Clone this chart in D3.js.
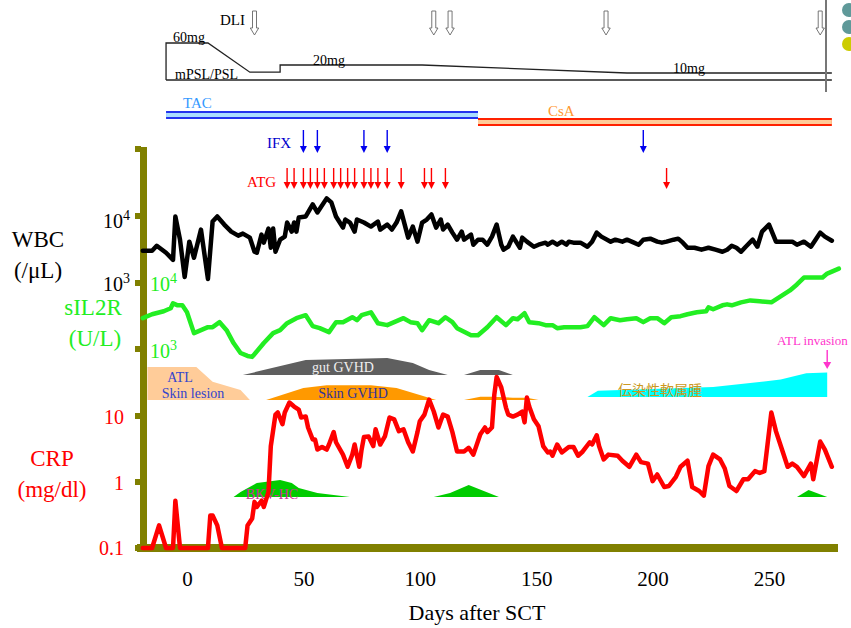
<!DOCTYPE html>
<html><head><meta charset="utf-8">
<script src="https://cdn.jsdelivr.net/npm/d3@7"></script>
<style>body{margin:0;background:#fff}svg{display:block}</style>
</head><body><svg id="c" width="851" height="628"></svg>
<script>
// ---------------- data ----------------
const xTicks = [0, 50, 100, 150, 200, 250];
const wbc = [[-19,3030],[-15,3030],[-13,3600],[-9,2830],[-6,2220],[-5,9830],[-3,4430],[-1,1230],[1,4140],[3,2380],[6,6270],[9,1150],[11,8270],[13,9830],[16,7450],[19,5850],[22,5090],[24,5460],[27,4750],[29,2930],[30,2830],[32,5270],[33,4000],[35,6490],[36,3360],[37,6490],[38,2930],[40,4430],[42,4920],[43,7990],[45,5850],[46,7990],[47,5850],[48,9500],[51,9830],[54,14900],[56,11290],[60,18330],[62,15960],[64,9830],[67,6720],[68,8860],[70,7990],[72,5850],[73,8860],[76,7990],[79,6950],[82,8270],[83,6270],[86,7450],[88,6270],[90,7990],[92,11700],[95,4750],[97,6950],[99,4140],[101,7990],[103,8860],[105,10530],[107,6720],[109,8860],[110,6270],[112,7450],[114,5650],[116,4430],[118,5850],[119,4430],[122,5270],[123,3730],[125,4430],[127,4430],[129,3730],[131,4920],[133,7450],[135,3730],[136,3140],[138,3480],[140,4920],[143,3360],[144,4750],[146,4140],[149,3480],[151,3730],[154,4000],[155,3730],[157,4140],[159,3730],[161,4140],[163,3730],[164,4140],[166,4000],[169,4000],[172,3480],[174,4140],[176,5650],[178,4920],[182,4140],[184,4430],[187,4140],[189,4430],[192,4000],[194,3730],[196,4430],[199,4590],[202,4140],[204,4000],[206,4140],[209,4430],[211,4590],[213,4000],[215,3360],[218,3360],[221,3140],[224,3360],[227,3140],[230,2930],[232,3140],[234,3600],[236,3360],[238,2930],[240,3480],[243,4430],[245,3480],[247,5850],[250,7450],[253,4140],[255,4140],[258,4140],[260,4140],[262,3730],[265,4140],[268,3480],[270,4430],[272,5650],[274,4920],[277,4280]];
const sil2r = [[-19,2930],[-15,3360],[-10,3730],[-7,4140],[-6,4920],[-4,4590],[-2,4590],[0,3600],[3,1740],[6,1930],[9,2140],[11,2140],[14,2550],[17,1930],[20,1230],[23,870],[26,785],[28,760],[33,1230],[37,1740],[40,1930],[43,2460],[47,2930],[51,3250],[54,2220],[57,2070],[61,1800],[64,2550],[67,2550],[71,3030],[73,2730],[75,3250],[79,3600],[82,2460],[86,2300],[89,2550],[93,2930],[96,2550],[99,2460],[101,1930],[104,2730],[108,2460],[111,3030],[114,2550],[116,2070],[122,1620],[125,1620],[129,2140],[133,3030],[137,2300],[140,2930],[142,2830],[145,3480],[147,2550],[151,2460],[154,2300],[157,2300],[159,2070],[162,2140],[165,2140],[169,2140],[172,2220],[175,3030],[179,2300],[182,2930],[186,2730],[189,2830],[193,2930],[196,2550],[199,2930],[202,2930],[205,2460],[208,3030],[212,3140],[215,3360],[219,3600],[223,3730],[224,4280],[226,4000],[230,4590],[232,4750],[234,4590],[238,5090],[242,5450],[246,5270],[251,5090],[255,6270],[259,7720],[262,9500],[265,12100],[268,12100],[273,12100],[275,13900],[280,16500]];
const crp = [[-19,0.1],[-15,0.1],[-12,0.22],[-9,0.1],[-6,0.1],[-5,0.52],[-3,0.1],[9,0.1],[10,0.31],[11,0.31],[13,0.22],[15,0.1],[25,0.1],[26,0.22],[28,0.28],[29,0.5],[30,0.42],[32,0.52],[33,0.42],[35,0.71],[36,3.5],[38,10.5],[39,11.3],[41,7.5],[42,11.3],[44,16],[46,13.9],[48,12.5],[49,9.5],[51,9.8],[52,6.7],[54,4.4],[55,4.4],[56,3.1],[58,3.4],[60,3.1],[61,3.7],[63,5.7],[64,4.0],[67,2.6],[69,1.7],[71,2.6],[72,3.7],[74,1.7],[75,3.1],[76,4.8],[78,4.9],[80,3.5],[81,6.3],[83,3.7],[85,4.9],[87,9.5],[89,8.9],[91,5.9],[93,6.3],[95,4.0],[97,2.9],[99,5.7],[100,8.3],[102,10.5],[104,17.7],[106,11.7],[108,6.7],[110,10.5],[112,9.8],[114,5.7],[116,2.9],[119,2.9],[121,3.3],[123,2.6],[126,5.3],[128,6.7],[129,5.7],[131,6.7],[132,21],[133,39],[135,27],[137,13.4],[138,10.5],[140,9.8],[142,10.5],[144,11.7],[145,8.0],[146,19],[147,13.9],[149,8.9],[151,7.0],[153,3.5],[155,2.8],[156,2.9],[157,2.5],[159,3.7],[161,2.8],[164,3.4],[166,3.4],[168,2.5],[170,2.9],[173,4.0],[174,3.7],[176,5.1],[177,3.5],[179,2.2],[181,2.6],[185,2.5],[187,2.1],[190,1.7],[193,2.6],[195,2.0],[198,1.9],[200,1.03],[202,1.3],[205,0.84],[207,0.87],[210,1.2],[212,1.7],[215,2.1],[217,0.84],[220,0.73],[222,0.62],[224,1.74],[226,2.6],[229,2.2],[231,1.6],[233,0.87],[236,0.73],[239,1.1],[241,1.1],[244,1.46],[246,1.37],[248,1.46],[251,11.3],[253,5.85],[256,2.8],[258,1.7],[260,1.9],[262,1.7],[265,1.23],[268,1.9],[269,1.1],[272,4.1],[274,3.1],[277,1.7]];
// steroid dose (mg) over days
const psl = [[-9,0],[-9,60],[9,60],[27,11],[40,11],[40,20],[101,20],[189,10],[277,10]];
const dliDays = [29, 106, 113, 180, 272];
const ifxDays = [50, 56, 76, 86, 196];
const atgDays = [43,46,50,53,56,59,63,66,69,72,76,79,82,86,92,102,105,111,206];
const tacPeriod = [-9, 125];
const csaPeriod = [125, 277];
// clinical episodes: [day, relative intensity 0..1]
const atlSkin = [[-17,0],[-17,1],[4,1],[11,0.55],[23,0.3],[27,0]];
const gutGvhd1 = [[24,0],[51,0.88],[86,1],[97,0.7],[104,0.3],[112,0]];
const gutGvhd2 = [[119,0],[126,0.3],[134,0.3],[140,0]];
const skinGvhd1 = [[34,0],[50,0.36],[60,0.45],[79,0.45],[90,0.36],[100,0.15],[107,0]];
const skinGvhd2 = [[119,0],[126,0.1],[131,0.1],[140,0.07],[146,0.07],[151,0]];
const mollusc = [[172,0],[176.5,0.21],[226,0.33],[255,0.58],[266,0.79],[275,0.82],[275,0]];
const bkv1 = [[20,0],[23,0.3],[30,0.82],[40,1],[45,0.82],[48,0.53],[56,0.24],[70,0]];
const bkv2 = [[106,0],[113,0.24],[121,0.7],[134,0]];
const bkv3 = [[262,0],[267,0.41],[275,0]];
const atlInvasionDay = 275;

// ---------------- scales ----------------
const x = d3.scaleLinear().domain([0, 250]).range([187, 769]);
const yW = d3.scaleLog().domain([1000, 10000]).range([283, 216]);
const yS = d3.scaleLog().domain([1000, 10000]).range([349, 283]);
const yC = d3.scaleLog().domain([0.1, 10]).range([548, 416]);
const yP = d3.scaleLinear().domain([0, 10, 20, 60]).range([80, 73, 65, 43]);

const svg = d3.select('#c');
const serif = '"Liberation Serif","Times New Roman",serif';
const olive = '#808000';

// ---------------- top: steroid + DLI ----------------
const topG = svg.append('g');
topG.append('line').attr('x1', x(-9)).attr('x2', x(277)).attr('y1', yP(0)).attr('y2', yP(0))
  .attr('stroke', '#222').attr('stroke-width', 1.3);
topG.append('path').datum(psl)
  .attr('d', d3.line().x(d => x(d[0])).y(d => yP(d[1])))
  .attr('fill', 'none').attr('stroke', '#222').attr('stroke-width', 1.3);
topG.append('line').attr('x1', 826).attr('x2', 826).attr('y1', 0).attr('y2', 92)
  .attr('stroke', '#777').attr('stroke-width', 2);
dliDays.forEach(d => {
  const cx = x(d);
  topG.append('path')
    .attr('d', `M${cx-2},11 L${cx+2},11 L${cx+2},28 L${cx+4.2},28 L${cx},35 L${cx-4.2},28 L${cx-2},28 Z`)
    .attr('fill', '#fff').attr('stroke', '#666').attr('stroke-width', 0.9);
});
const tt = (t, xx, yy, size, col, anchor) => svg.append('text').attr('x', xx).attr('y', yy)
  .attr('font-family', serif).attr('font-size', size).attr('fill', col)
  .attr('text-anchor', anchor || 'start').text(t);
tt('DLI', 220, 25, 15, '#000');
tt('60mg', 173, 42, 14, '#000');
tt('mPSL/PSL', 175, 79, 14, '#000');
tt('20mg', 313, 65, 14, '#000');
tt('10mg', 673, 73, 14, '#000');
// corner bullets
svg.append('circle').attr('cx', 849).attr('cy', 10).attr('r', 7).attr('fill', '#5f9999');
svg.append('circle').attr('cx', 849).attr('cy', 27).attr('r', 7).attr('fill', '#5f9999');
svg.append('circle').attr('cx', 849).attr('cy', 44).attr('r', 7).attr('fill', '#cccc00');

// ---------------- drug bars ----------------
function drugBar(p, y0, edge, mid) {
  svg.append('rect').attr('x', x(p[0])).attr('y', y0).attr('width', x(p[1]) - x(p[0])).attr('height', 8).attr('fill', edge);
  svg.append('rect').attr('x', x(p[0])).attr('y', y0 + 2).attr('width', x(p[1]) - x(p[0])).attr('height', 4).attr('fill', mid);
}
drugBar(tacPeriod, 111, '#2233ee', '#aaddff');
drugBar(csaPeriod, 118, '#ff2200', '#ffcc99');
tt('TAC', 183, 108, 15, '#3399ff');
tt('CsA', 548, 116, 15, '#ff9933');

function arrow(cx, y1, y2, col, w) {
  svg.append('line').attr('x1', cx).attr('x2', cx).attr('y1', y1).attr('y2', y2 - 6)
    .attr('stroke', col).attr('stroke-width', 1.4);
  svg.append('path').attr('d', `M${cx-w},${y2-7} L${cx+w},${y2-7} L${cx},${y2} Z`).attr('fill', col);
}
ifxDays.forEach(d => arrow(x(d), 130, 153, '#0000ee', 3.5));
atgDays.forEach(d => arrow(x(d), 168, 189, '#ff0000', 3.5));
tt('IFX', 267, 148, 15, '#0000cc');
tt('ATG', 247, 187, 15, '#ff0000');

// ---------------- episode shapes ----------------
function band(data, base, h, col) {
  const hs = d3.scaleLinear().domain([0, 1]).range([0, h]);
  svg.append('path').datum(data)
    .attr('d', d3.area().x(d => x(d[0])).y0(base).y1(d => base - hs(d[1])))
    .attr('fill', col);
}
band(atlSkin, 400, 33, '#ffcc99');
band(skinGvhd1, 400, 33, '#ff9900');
band(skinGvhd2, 400, 33, '#ff9900');
band(mollusc, 397, 30, '#00ffff');
band(gutGvhd1, 375, 17, '#5f5f5f');
band(gutGvhd2, 375, 17, '#5f5f5f');
band(bkv1, 497, 17, '#00cc00');
band(bkv2, 497, 17, '#00cc00');
band(bkv3, 497, 17, '#00cc00');
tt('ATL', 180, 382, 14, '#3344cc', 'middle');
tt('Skin lesion', 193, 398, 14, '#3344cc', 'middle');
tt('gut GVHD', 343, 372, 14, '#f0f0f0', 'middle');
tt('Skin GVHD', 353, 398, 14, '#333399', 'middle');
svg.append('text').attr('x', 660).attr('y', 395).attr('text-anchor', 'middle')
  .attr('font-family', '"Noto Sans CJK JP",sans-serif').attr('font-size', 14).attr('fill', '#cc9922')
  .text('伝染性軟属腫');
tt('BKV-HC', 272, 499, 14, '#cc3399', 'middle');
tt('ATL invasion', 777, 345, 13, '#ff33cc');
arrow(x(atlInvasionDay), 350, 369, '#ff33cc', 4);

// ---------------- axes bars ----------------
svg.append('rect').attr('x', 140).attr('y', 147).attr('width', 7).attr('height', 405).attr('fill', olive);
svg.append('rect').attr('x', 137).attr('y', 544).attr('width', 701).attr('height', 8).attr('fill', olive);
[yW(100000), yW(10000), yW(1000), yS(1000), yC(10), yC(1), yC(0.1)].forEach(t => {
  svg.append('rect').attr('x', 135).attr('y', t - 3).attr('width', 6).attr('height', 6).attr('fill', olive);
});
const ax = svg.append('g').attr('transform', 'translate(0,571)')
  .call(d3.axisBottom(x).tickValues(xTicks).tickSize(0).tickPadding(0));
ax.select('.domain').remove();
ax.selectAll('text').attr('font-family', serif).attr('font-size', 21).attr('fill', '#000');
tt('Days after SCT', 477, 620, 22, '#000', 'middle');

// ---------------- left labels ----------------
function pow(xx, yy, exp, col, anchor) {
  const t = svg.append('text').attr('x', xx).attr('y', yy).attr('font-family', serif)
    .attr('font-size', 20).attr('fill', col).attr('text-anchor', anchor);
  t.append('tspan').text('10');
  t.append('tspan').attr('font-size', 14).attr('dy', -8).text(exp);
}
pow(130, yW(10000) + 12, '4', '#000', 'end');
pow(130, yW(1000) + 8, '3', '#000', 'end');
pow(150, yS(10000) + 8, '4', '#22ee22', 'start');
pow(150, yS(1000) + 9, '3', '#22ee22', 'start');
tt('10', 124, yC(10) + 8, 20, '#ff0000', 'end');
tt('1', 124, yC(1) + 8, 20, '#ff0000', 'end');
tt('0.1', 124, yC(0.1) + 7, 20, '#ff0000', 'end');
tt('WBC', 38, 247, 23, '#000', 'middle');
tt('(/μL)', 38, 278, 23, '#000', 'middle');
tt('sIL2R', 93, 315, 23, '#22ee22', 'middle');
tt('(U/L)', 95, 346, 23, '#22ee22', 'middle');
tt('CRP', 52, 466, 23, '#ff0000', 'middle');
tt('(mg/dl)', 52, 497, 23, '#ff0000', 'middle');

// ---------------- series lines ----------------
function series(data, y, col) {
  svg.append('path').datum(data)
    .attr('d', d3.line().x(d => x(d[0])).y(d => y(d[1])))
    .attr('fill', 'none').attr('stroke', col).attr('stroke-width', 4.5)
    .attr('stroke-linejoin', 'round').attr('stroke-linecap', 'round');
}
series(wbc, yW, '#000');
series(sil2r, yS, '#22ee22');
series(crp, yC, '#ff0000');
</script></body></html>
